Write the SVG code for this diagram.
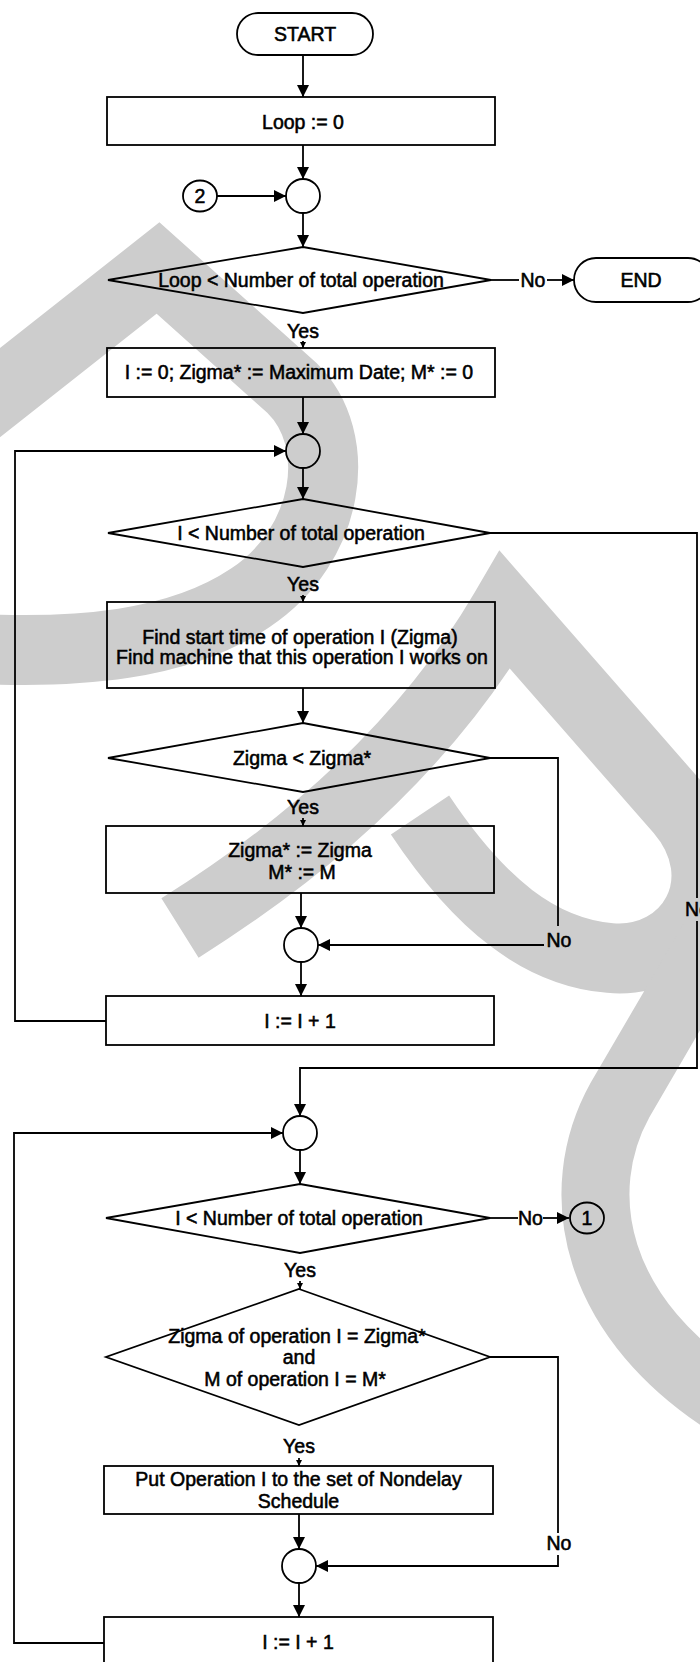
<svg xmlns="http://www.w3.org/2000/svg" width="700" height="1662" viewBox="0 0 700 1662">
<style>
.wm{fill:none;stroke:#cdcdcd;stroke-linejoin:miter;stroke-miterlimit:10}
.sh{fill:none;stroke:#000;stroke-width:1.8}
.cn{fill:none;stroke:#000;stroke-width:1.8}
.t{font-family:"Liberation Sans",Arial,sans-serif;font-size:19.5px;fill:#000;stroke:#000;stroke-width:0.55;text-anchor:middle}
.ts{text-anchor:start}
</style>
<defs>
<marker id="arr" markerUnits="userSpaceOnUse" markerWidth="12" markerHeight="12" refX="12" refY="6" orient="auto"><path d="M0,0 L12,6 L0,12 z" fill="#000"/></marker>
<marker id="arrs" markerUnits="userSpaceOnUse" markerWidth="6" markerHeight="6" refX="6" refY="3" orient="auto"><path d="M0,0 L6,3 L0,6 z" fill="#000"/></marker>
</defs>
<rect x="0" y="0" width="700" height="1662" fill="#fff"/>
<g id="watermark">
<path class="wm" stroke-width="70" d="M -60 440 L 158 268 L 292 388 C 345 440 330 545 250 598 C 180 645 80 655 -40 648"/>
<path class="wm" stroke-width="70" d="M 180 928 Q 400 790 505 610 L 680 810 C 740 880 690 965 610 958 C 540 952 480 905 420 815"/>
<path class="wm" stroke-width="68" d="M 760 860 L 620 1100 C 570 1190 590 1320 740 1410"/>
</g>
<g id="connectors">
<path class="cn" d="M303,55 V97" marker-end="url(#arr)"/>
<path class="cn" d="M303,145 V179" marker-end="url(#arr)"/>
<path class="cn" d="M217,196 H286" marker-end="url(#arr)"/>
<path class="cn" d="M303,213 V247" marker-end="url(#arr)"/>
<path class="cn" d="M491,280 H519"/>
<path class="cn" d="M547,280 H574" marker-end="url(#arr)"/>
<path class="cn" d="M303,341 V348" marker-end="url(#arrs)"/>
<path class="cn" d="M303,397 V434" marker-end="url(#arr)"/>
<path class="cn" d="M303,468 V499" marker-end="url(#arr)"/>
<path class="cn" d="M303,595 V602" marker-end="url(#arrs)"/>
<path class="cn" d="M490,533 H697 V898"/>
<path class="cn" d="M697,921 V1068 H300 V1116" marker-end="url(#arr)"/>
<path class="cn" d="M303,688 V723" marker-end="url(#arr)"/>
<path class="cn" d="M303,818 V826" marker-end="url(#arrs)"/>
<path class="cn" d="M490,758 H558 V926"/>
<path class="cn" d="M544,945 H318" marker-end="url(#arr)"/>
<path class="cn" d="M301,893 V928" marker-end="url(#arr)"/>
<path class="cn" d="M301,962 V996" marker-end="url(#arr)"/>
<path class="cn" d="M106,1021 H15 V451 H286" marker-end="url(#arr)"/>
<path class="cn" d="M300,1150 V1184" marker-end="url(#arr)"/>
<path class="cn" d="M490,1218 H518"/>
<path class="cn" d="M543,1218 H569" marker-end="url(#arr)"/>
<path class="cn" d="M300,1281 V1289" marker-end="url(#arrs)"/>
<path class="cn" d="M299,1458 V1466" marker-end="url(#arrs)"/>
<path class="cn" d="M490,1357 H558 V1533"/>
<path class="cn" d="M558,1555 V1566 H316" marker-end="url(#arr)"/>
<path class="cn" d="M299,1514 V1549" marker-end="url(#arr)"/>
<path class="cn" d="M299,1583 V1617" marker-end="url(#arr)"/>
<path class="cn" d="M104,1643 H14 V1133 H283" marker-end="url(#arr)"/>
</g>
<g id="labels">
<text class="t" x="533" y="287">No</text>
<text class="t" x="303" y="338">Yes</text>
<text class="t" x="303" y="591">Yes</text>
<text class="t" x="303" y="814">Yes</text>
<text class="t ts" x="685" y="916">No</text>
<text class="t" x="559" y="947">No</text>
<text class="t" x="530.5" y="1225">No</text>
<text class="t" x="300" y="1277">Yes</text>
<text class="t" x="299" y="1453">Yes</text>
<text class="t" x="559" y="1550">No</text>
</g>
<g id="start"><rect class="sh" x="237" y="13" width="136" height="42" rx="21"/><text class="t" x="305" y="41">START</text></g>
<g id="loop0"><rect class="sh" x="107" y="97" width="388" height="48"/><text class="t" x="303" y="129">Loop := 0</text></g>
<g id="join1"><circle class="sh" cx="303" cy="196" r="17"/></g>
<g id="conn2"><ellipse class="sh" cx="200" cy="196" rx="17" ry="15.5"/><text class="t" x="200" y="203">2</text></g>
<g id="dec1"><polygon class="sh" points="303,247 491,280 303,313 108,280"/><text class="t" x="301" y="287">Loop &lt; Number of total operation</text></g>
<g id="end"><rect class="sh" x="574" y="258" width="136" height="44" rx="22"/><text class="t" x="641" y="287">END</text></g>
<g id="init"><rect class="sh" x="107" y="348" width="388" height="49"/><text class="t" x="299" y="379">I := 0; Zigma* := Maximum Date; M* := 0</text></g>
<g id="join2"><circle class="sh" cx="303" cy="451" r="17"/></g>
<g id="dec2"><polygon class="sh" points="303,499 490,533 303,567 108,533"/><text class="t" x="301" y="540">I &lt; Number of total operation</text></g>
<g id="find"><rect class="sh" x="107" y="602" width="388" height="86"/><text class="t" x="300" y="644">Find start time of operation I (Zigma)</text><text class="t" x="302" y="664">Find machine that this operation I works on</text></g>
<g id="dec3"><polygon class="sh" points="303,723 490,758 303,792 108,758"/><text class="t" x="302" y="765">Zigma &lt; Zigma*</text></g>
<g id="assign"><rect class="sh" x="106" y="826" width="388" height="67"/><text class="t" x="300" y="857">Zigma* := Zigma</text><text class="t" x="302" y="879">M* := M</text></g>
<g id="join3"><circle class="sh" cx="301" cy="945" r="17"/></g>
<g id="inc1"><rect class="sh" x="106" y="996" width="388" height="49"/><text class="t" x="300" y="1028">I := I + 1</text></g>
<g id="join4"><circle class="sh" cx="300" cy="1133" r="17"/></g>
<g id="dec4"><polygon class="sh" points="300,1184 490,1218 300,1253 106,1218"/><text class="t" x="299" y="1225">I &lt; Number of total operation</text></g>
<g id="conn1"><ellipse class="sh" cx="587" cy="1218" rx="17" ry="15.5"/><text class="t" x="587" y="1225">1</text></g>
<g id="dec5"><polygon class="sh" points="299,1289 490,1357 299,1425 106,1357"/><text class="t" x="297" y="1343">Zigma of operation I = Zigma*</text><text class="t" x="299" y="1364">and</text><text class="t" x="295" y="1386">M of operation I = M*</text></g>
<g id="put"><rect class="sh" x="104" y="1466" width="389" height="48"/><text class="t" x="298.5" y="1486">Put Operation I to the set of Nondelay</text><text class="t" x="298.5" y="1508">Schedule</text></g>
<g id="join5"><circle class="sh" cx="299" cy="1566" r="17"/></g>
<g id="inc2"><rect class="sh" x="104" y="1617" width="389" height="50"/><text class="t" x="298" y="1649">I := I + 1</text></g>
</svg>
